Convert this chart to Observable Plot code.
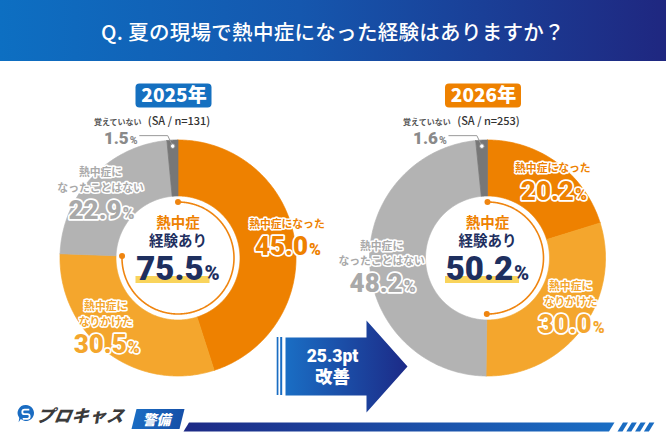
<!DOCTYPE html>
<html><head><meta charset="utf-8">
<script src="https://cdn.jsdelivr.net/npm/d3@7"></script>
<script src="https://cdn.jsdelivr.net/npm/@observablehq/plot@0.6"></script>
<style>
body{margin:0;background:#fff;}
#wrap{position:relative;width:666px;height:444px;overflow:hidden;background:#fff;font-family:"Noto Sans CJK JP","Noto Sans",sans-serif;}
#title{height:61px;background:linear-gradient(90deg,#0d6fc2 0%,#1557ae 45%,#1f2780 100%);color:#fff;font-size:20.5px;font-weight:500;display:flex;align-items:center;justify-content:center;letter-spacing:0.3px}
#chart svg{display:block}
.pk{position:absolute;left:37px;top:402px;font-size:17px;font-weight:900;font-style:italic;color:#3b3b3b;letter-spacing:0.5px;transform:skewX(-10deg)}
.kb{position:absolute;left:134px;top:409px;width:48px;height:20px;background:linear-gradient(90deg,#1a6cc2,#1650a8);transform:skewX(-14deg);color:#fff;font-size:14px;font-weight:900;line-height:20px;text-align:center}
.ic{position:absolute;left:17px;top:404px}
</style></head><body>
<div id="wrap">
<div id="title">Q. 夏の現場で熱中症になった経験はありますか？</div>
<div id="chart"></div>
<svg class="ic" width="18" height="19" viewBox="0 0 18 19"><path d="M9 1a8 8 0 1 1-5.2 14.1L1.6 18.2l0.7-4.3A8 8 0 0 1 9 1z" fill="#1a6cc2"/><path d="M12.3 5.6H7.6a2.3 2.3 0 0 0 0 4.6h2.8a2.3 2.3 0 0 1 0 4.6H5.7" stroke="#fff" stroke-width="1.8" fill="none"/></svg>
<div class="pk">プロキャス</div>
<div class="kb">警備</div>
</div>
<script>
// ---- data ----
const years = ["2025年", "2026年"];
const sampleSizes = [131, 253];
const categories = ["熱中症になった", "熱中症になりかけた", "熱中症になったことはない", "覚えていない"];
const categoryLines = [["熱中症になった"], ["熱中症に", "なりかけた"], ["熱中症に", "なったことはない"], ["覚えていない"]];
const values2025 = [45.0, 30.5, 22.9, 1.5];
const values2026 = [20.2, 30.0, 48.2, 1.6];
const centerTitle = ["熱中症", "経験あり"];
const improvementWord = "改善";

// ---- layout / style ----
const series = [values2025, values2026];
const W = 666, H = 383, TOP = 61;
const F = "Noto Sans CJK JP";
const FN = "Roboto, 'Noto Sans CJK JP'";
const centers = [[177.5, 257.5], [487, 257.5]];
const R_OUT = 118, R_IN = 62, R_RING = 56, R_LAB = 90, R_DOT = 112;
const segColors = ["#ee8100", "#f4a62d", "#b3b3b3", "#777777"];
const labColors = ["#ee8100", "#f4a62d", "#a9a9a9", "#8a8a8a"];
const yearColors = ["#1570c0", "#ee8100"];
const navy = "#1e2f5f";
const nudges = [[[20, -8], [-18, 3], [-12, 2]], [[12, -5], [11, 1], [-16, 10]]];

const TAU = Math.PI * 2;
const polar = (c, a, r) => [c[0] + r * Math.sin(a), c[1] - r * Math.cos(a)];

const wedges = [], names = [], bigVals = [], smallVals = [], smallNames = [];
const ring = [], ringEnds = [], leaders = [], leaderDots = [];
const centerRows = [], centerVals = [], hiBars = [], badges = [], badgeText = [], saText = [];

series.forEach((vals, s) => {
  const c = centers[s];
  const total = d3.sum(vals);
  const ang = d3.scaleLinear().domain([0, total]).range([0, TAU]);
  let cum = 0;
  vals.forEach((v, i) => {
    const a0 = ang(cum), a1 = ang(cum + v); cum += v;
    const n = Math.max(2, Math.ceil((a1 - a0) / 0.01));
    const pts = [];
    for (let k = 0; k <= n; k++) pts.push(polar(c, a0 + (a1 - a0) * k / n, R_OUT));
    for (let k = n; k >= 0; k--) pts.push(polar(c, a0 + (a1 - a0) * k / n, R_IN));
    pts.push(pts[0]);
    pts.forEach(([x, y]) => wedges.push({key: s + "-" + i, x, y, color: segColors[i]}));
    const mid = (a0 + a1) / 2;
    const label = v.toFixed(1) + "%";
    if (i < 3) {
      const [ax, ay] = polar(c, mid, R_LAB);
      const gx = ax + nudges[s][i][0], gy = ay + nudges[s][i][1];
      const lines = categoryLines[i];
      if (lines.length === 1) {
        names.push({x: gx, y: gy - 13.5, text: lines[0], fill: labColors[i]});
        bigVals.push({x: gx + 1, y: gy + 11, text: label, fill: labColors[i]});
      } else {
        names.push({x: gx, y: gy - 19.5, text: lines.join("\n"), fill: labColors[i]});
        bigVals.push({x: gx + 1, y: gy + 12, text: label, fill: labColors[i]});
      }
    } else {
      const [dx, dy] = polar(c, mid, R_DOT);
      smallNames.push({x: dx - 55, y: dy - 24, text: categoryLines[i][0]});
      smallVals.push({x: dx - 52, y: dy - 8, text: label});
      [[dx - 33, dy - 10.5], [dx - 5, dy - 10.5], [dx, dy]].forEach(([x, y]) => leaders.push({key: s, x, y}));
      leaderDots.push({x: dx, y: dy});
    }
  });
  // experience ring
  const exp = vals[0] + vals[1];
  const aEnd = ang(exp);
  const m = Math.ceil(aEnd / 0.01);
  for (let k = 0; k <= m; k++) { const [x, y] = polar(c, aEnd * k / m, R_RING); ring.push({key: s, x, y}); }
  [0, aEnd].forEach(a => { const [x, y] = polar(c, a, R_RING); ringEnds.push({x, y}); });
  centerRows.push({x: c[0], y: 230.5, text: centerTitle.join("\n"), fill: navy});
  centerVals.push({x: c[0], y: 268.5, text: exp.toFixed(1) + "%"});
  hiBars.push({x1: c[0] - 42, x2: c[0] + 32, y1: 276, y2: 283});
  badges.push({x1: c[0] - 42, x2: c[0] + 34, y1: 83.5, y2: 107.5, fill: yearColors[s]});
  badgeText.push({x: c[0] - 4, y: 95.5, text: years[s], stroke: yearColors[s]});
  saText.push({x: c[0] + 1, y: 121, text: `(SA / n=${sampleSizes[s]})`});
});

const improvement = (d3.sum(values2025.slice(0, 2)) - d3.sum(values2026.slice(0, 2))).toFixed(1);
const arrowShape = [[285, 337], [366, 337], [366, 320], [407, 366], [366, 412], [366, 395], [285, 395], [285, 337]];
const arrowStripes = [{x1: 276.7, x2: 278.4}, {x1: 280.2, x2: 282.2}];
const arrowText = [{x: 332, y: 365.5, text: improvement + "pt\n" + improvementWord}];
const footLine = [[183, 431], [188.5, 422], [614, 422], [608.5, 431], [183, 431]];
const slashes = [];
for (let i = 0; i < 4; i++) {
  const x0 = 617 + i * 8.8;
  [[x0, 431], [x0 + 5.5, 422], [x0 + 10.5, 422], [x0 + 5, 431], [x0, 431]].forEach(([x, y]) => slashes.push({key: i, x, y}));
}

const outline = {stroke: "white", strokeWidth: 3, paintOrder: "stroke", strokeLinejoin: "round"};

const svg = Plot.plot({
  width: W, height: H, margin: 0,
  x: {domain: [0, W], range: [0, W], axis: null},
  y: {domain: [TOP, TOP + H], range: [0, H], axis: null},
  color: {type: "identity"},
  style: {background: "transparent", overflow: "visible", fontFamily: F},
  marks: [
    Plot.line(wedges, {x: "x", y: "y", z: "key", fill: "color", stroke: "color", strokeWidth: 0.7, curve: "linear"}),
    Plot.line(ring, {x: "x", y: "y", z: "key", stroke: "#ef8510", strokeWidth: 1.6}),
    Plot.dot(ringEnds, {x: "x", y: "y", r: 3, fill: "#ef8510", stroke: "none"}),
    Plot.line(leaders, {x: "x", y: "y", z: "key", stroke: "#9a9a9a", strokeWidth: 1}),
    Plot.dot(leaderDots, {x: "x", y: "y", r: 2.3, fill: "white", stroke: "#8a8a8a", strokeWidth: 1}),
    Plot.rect(badges, {x1: "x1", x2: "x2", y1: "y1", y2: "y2", fill: "fill", rx: 4}),
    Plot.text(badgeText, {x: "x", y: "y", text: "text", fill: "white", stroke: "stroke", strokeWidth: 1, paintOrder: "stroke", fontSize: 19, fontWeight: 900, fontFamily: F}),
    Plot.text(saText, {x: "x", y: "y", text: "text", fill: "#333", fontSize: 11, fontWeight: 500, fontFamily: F}),
    Plot.text(names, {x: "x", y: "y", text: "text", fill: "fill", fontSize: 10.8, lineHeight: 1.46, fontWeight: 700, fontFamily: F, ...outline}),
    Plot.text(bigVals, {x: "x", y: "y", text: "text", fill: "fill", fontSize: 26, fontWeight: 900, fontFamily: FN, ...outline, strokeWidth: 3.5}),
    Plot.text(smallNames, {x: "x", y: "y", text: "text", fill: "#555", fontSize: 8, fontWeight: 700, fontFamily: F}),
    Plot.text(smallVals, {x: "x", y: "y", text: "text", fill: "#8a8a8a", fontSize: 17, fontWeight: 900, fontFamily: FN}),
    Plot.rect(hiBars, {x1: "x1", x2: "x2", y1: "y1", y2: "y2", fill: "#f9d45c"}),
    Plot.text(centerRows, {x: "x", y: "y", text: "text", fill: navy, fontSize: 14.5, lineHeight: 1.3, fontWeight: 700, fontFamily: F}),
    Plot.text(centerVals, {x: "x", y: "y", text: "text", fill: navy, fontSize: 33, fontWeight: 900, fontFamily: FN}),
    Plot.line(arrowShape, {fill: "url(#gArrow)", stroke: "none"}),
    Plot.rect(arrowStripes, {x1: "x1", x2: "x2", y1: () => 337, y2: () => 395, fill: "#1a6dc2"}),
    Plot.text(arrowText, {x: "x", y: "y", text: "text", fill: "white", fontSize: 17.5, lineHeight: 1.2, fontWeight: 900, fontFamily: FN}),
    Plot.line(footLine, {fill: "url(#gFoot)", stroke: "none"}),
    Plot.line(slashes, {x: "x", y: "y", z: "key", fill: "#1a6cc2", stroke: "none"})
  ]
});

const root = d3.select(svg);
const defs = root.insert("defs", ":first-child");
function grad(id, a, b) {
  const g = defs.append("linearGradient").attr("id", id).attr("x1", "0").attr("x2", "1").attr("y1", "0").attr("y2", "0");
  g.append("stop").attr("offset", "0%").attr("stop-color", a);
  g.append("stop").attr("offset", "100%").attr("stop-color", b);
}
grad("gArrow", "#1a6ec4", "#1c2a87");
grad("gFoot", "#1d2a86", "#1a6ec4");

// first line of the centre caption in orange
root.selectAll("text").each(function () {
  const tsp = this.querySelectorAll("tspan");
  if (tsp.length === 2 && tsp[0].textContent === centerTitle[0]) tsp[0].setAttribute("fill", "#ee8100");
});

// smaller percent sign
root.selectAll("text").each(function () {
  const t = this.textContent;
  const m = /^(\d+\.\d)%$/.exec(t);
  if (!m) return;
  const el = d3.select(this);
  this.textContent = "";
  el.append("tspan").text(m[1]);
  el.append("tspan").attr("font-size", "0.62em").attr("dx", "1").text("%");
});

document.getElementById("chart").appendChild(svg);
</script>
</body></html>
